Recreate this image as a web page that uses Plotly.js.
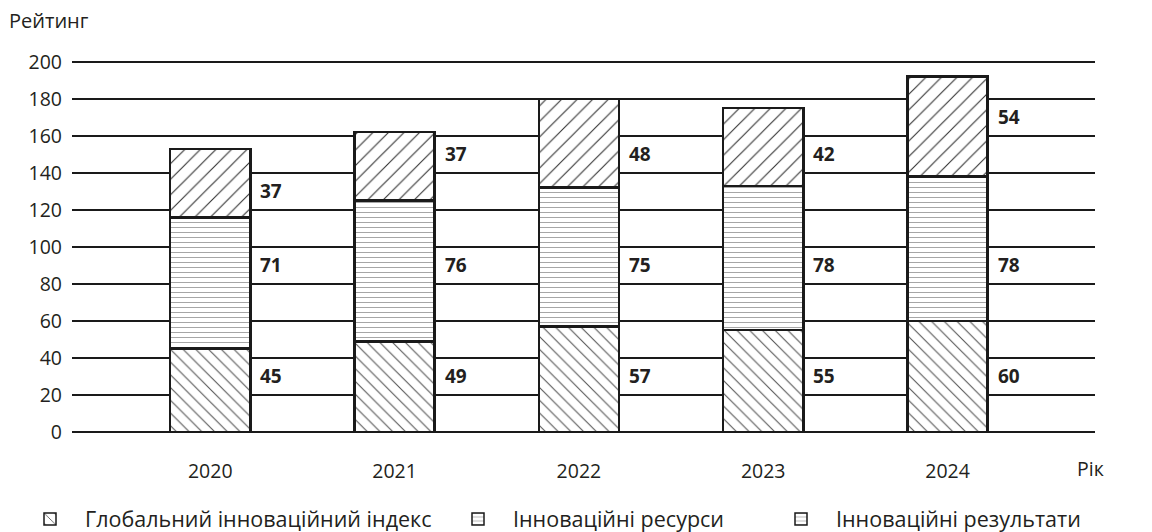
<!DOCTYPE html>
<html>
<head>
<meta charset="utf-8">
<script src="https://cdn.plot.ly/plotly-3.0.1.min.js"></script>
<style>html,body{margin:0;padding:0;background:#fff;}#chart{width:1152px;height:532px;}</style>
</head>
<body>
<div id="chart"></div>
<script>
const years = ['2020', '2021', '2022', '2023', '2024'];
const globalIndex = [45, 49, 57, 55, 60];
const resources = [71, 76, 75, 78, 78];
const results = [37, 37, 48, 42, 54];
const seriesNames = ['Глобальний інноваційний індекс', 'Інноваційні ресурси', 'Інноваційні результати'];
const yTicks = [0, 20, 40, 60, 80, 100, 120, 140, 160, 180, 200];

const txt = '#231f20';
const font = 'Open Sans, Noto Sans, sans-serif';
const barW = 0.435;
const line = {color: '#1a1a1a', width: 2.5};
const xIdx = years.map((y, i) => i);

function barTrace(vals, name, pattern) {
  return {
    type: 'bar', x: xIdx, y: vals, name: name, width: barW, showlegend: false,
    marker: {color: '#ffffff', line: line, pattern: pattern},
    hoverinfo: 'skip'
  };
}
const pBottom = {shape: '\\', fgcolor: '#555', bgcolor: '#fff', size: 9, solidity: 0.12};
const pMid = {shape: '-', fgcolor: '#888', bgcolor: '#fff', size: 5, solidity: 0.15};
const pTop = {shape: '/', fgcolor: '#333', bgcolor: '#fff', size: 11, solidity: 0.1};

const traces = [
  barTrace(globalIndex, seriesNames[0], pBottom),
  barTrace(resources, seriesNames[1], pMid),
  barTrace(results, seriesNames[2], pTop)
];
const legendPatterns = [pBottom, pMid, pMid];
const legendIds = ['legend', 'legend2', 'legend3'];
seriesNames.forEach((n, i) => {
  traces.push({type: 'bar', x: [null], y: [null], name: n, showlegend: true, legend: legendIds[i],
    marker: {color: '#fff', line: {color: '#1a1a1a', width: 1.5}, pattern: legendPatterns[i]}});
});

// value labels: placed in the gridline band (step 20) that contains the segment midpoint
const series = [globalIndex, resources, results];
const annotations = [];
series.forEach((arr, si) => {
  arr.forEach((v, i) => {
    let base = 0;
    for (let k = 0; k < si; k++) base += series[k][i];
    const mid = base + v / 2;
    const yLab = Math.floor(mid / 20) * 20 + 10;
    annotations.push({x: i, y: yLab, xref: 'x', yref: 'y', text: '<b>' + v + '</b>',
      showarrow: false, xanchor: 'left', xshift: 48, font: {size: 19, color: txt, family: font}});
  });
});
annotations.push({xref: 'paper', yref: 'paper', x: 0.98, y: 0, yshift: -36, xanchor: 'left', yanchor: 'middle',
  text: 'Рік', showarrow: false, font: {size: 19.5, color: txt, family: font}});
annotations.push({xref: 'paper', yref: 'paper', x: -0.064, y: 1, yshift: 40, xanchor: 'left', yanchor: 'middle',
  text: 'Рейтинг', showarrow: false, font: {size: 20, color: txt, family: font}});

function leg(xpx) {
  return {orientation: 'h', xref: 'container', yref: 'container', x: xpx / 1152, y: 13 / 532,
    xanchor: 'left', yanchor: 'middle', font: {size: 21.5, color: txt, family: font}, itemwidth: 60};
}

const layout = {
  width: 1152, height: 532,
  margin: {l: 72, r: 57, t: 60, b: 100},
  barmode: 'stack',
  paper_bgcolor: '#fff', plot_bgcolor: '#fff',
  font: {family: font, color: txt, size: 19},
  xaxis: {range: [-0.75, 4.8], tickvals: xIdx, ticktext: years, showgrid: false, zeroline: false, showline: false,
    ticks: '', ticklabelstandoff: 25, tickfont: {size: 19.5, color: txt}},
  yaxis: {range: [0, 201], tickvals: yTicks, showgrid: true, gridcolor: '#1a1a1a', gridwidth: 1.3,
    zeroline: true, zerolinecolor: '#1a1a1a', zerolinewidth: 1.3, showline: false, ticks: '',
    ticklabelstandoff: 9, tickfont: {size: 19.5, color: txt}},
  legend: leg(15),
  legend2: leg(443),
  legend3: leg(766),
  annotations: annotations,
  showlegend: true
};

Plotly.newPlot('chart', traces, layout, {displayModeBar: false, staticPlot: true});
</script>
</body>
</html>
